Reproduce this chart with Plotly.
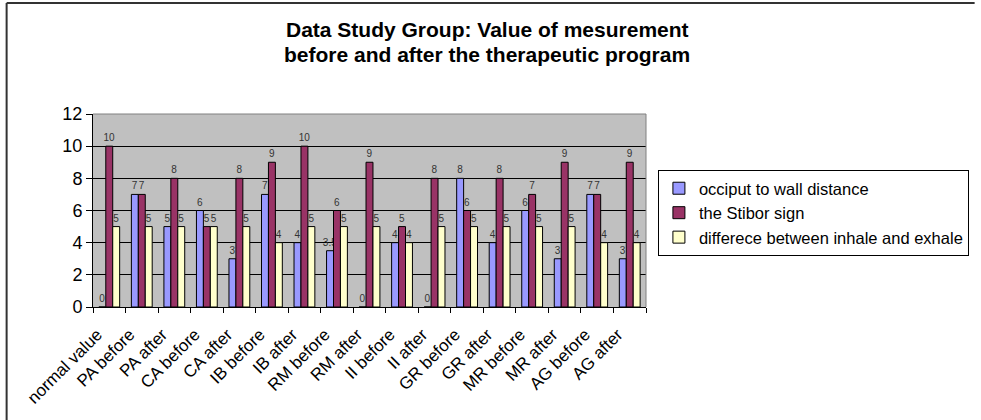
import plotly.graph_objects as go

categories = ["normal value", "PA before", "PA after", "CA before", "CA after",
              "IB before", "IB after", "RM before", "RM after", "II before",
              "II after", "GR before", "GR after", "MR before", "MR after",
              "AG before", "AG after"]
occiput = [0, 7, 5, 6, 3, 7, 4, 3.5, 0, 4, 0, 8, 4, 6, 3, 7, 3]
stibor = [10, 7, 8, 5, 8, 9, 10, 6, 9, 5, 8, 6, 8, 7, 9, 7, 9]
inhale_exhale = [5, 5, 5, 5, 5, 4, 5, 5, 5, 4, 5, 5, 5, 5, 5, 4, 4]
series_names = ["occiput to wall distance", "the Stibor sign",
                "differece between inhale and exhale"]
y_ticks = [0, 2, 4, 6, 8, 10, 12]

FONT = "Arial, 'Liberation Sans', sans-serif"
colors = ["#9999FF", "#993366", "#FFFFCC"]

fig = go.Figure()
for name, vals, col in zip(series_names, [occiput, stibor, inhale_exhale], colors):
    fig.add_trace(go.Bar(
        x=categories, y=vals, name=name,
        marker=dict(color=col, line=dict(color="#000000", width=1)),
        text=[str(v) for v in vals], textposition="outside",
        textfont=dict(family=FONT, size=10, color="#333333"),
        constraintext="none", cliponaxis=False,
    ))

W, H = 981, 420
L, R, T, B = 93, 331, 114, 113
pw, ph = W - L - R, H - T - B

def px(x):
    return (x - L) / pw

def py(y):
    return (H - B - y) / ph

fig.update_layout(
    width=W, height=H,
    margin=dict(l=L, r=R, t=T, b=B, pad=0),
    paper_bgcolor="white", plot_bgcolor="#C0C0C0",
    barmode="group", bargap=0.36, bargroupgap=0,
    font=dict(family=FONT, color="black"),
    showlegend=True,
    legend=dict(x=px(662), y=py(170), xanchor="left", yanchor="top",
                bgcolor="white", bordercolor="black", borderwidth=1,
                font=dict(family=FONT, size=16.5, color="black")),
    xaxis=dict(tickangle=-45, tickfont=dict(family=FONT, size=17, color="black"),
               showline=True, linecolor="black", linewidth=1,
               ticks="outside", tickson="boundaries", ticklen=5,
               tickcolor="black", showgrid=False,
               ticklabelshift=-12, ticklabelstandoff=10),
    yaxis=dict(range=[0, 12], tickvals=y_ticks, tickfont=dict(family=FONT, size=18, color="black"),
               showline=True, linecolor="black", linewidth=1,
               ticks="outside", ticklen=6, tickcolor="black",
               showgrid=True, gridcolor="black", gridwidth=1, zeroline=False),
    annotations=[
        dict(text="<b>Data Study Group: Value of mesurement</b>", xref="paper", yref="paper",
             x=px(490), y=py(29), xanchor="center", yanchor="middle", showarrow=False,
             font=dict(family=FONT, size=21, color="black")),
        dict(text="<b>before and after the therapeutic program</b>", xref="paper", yref="paper",
             x=px(490), y=py(54), xanchor="center", yanchor="middle", showarrow=False,
             font=dict(family=FONT, size=21, color="black")),
    ],
    shapes=[
        dict(type="line", xref="paper", yref="paper", x0=1, x1=1, y0=0, y1=1,
             line=dict(color="#808080", width=1)),
        dict(type="line", xref="paper", yref="paper", x0=0, x1=1, y0=1, y1=1,
             line=dict(color="#808080", width=1)),
        dict(type="line", xref="paper", yref="paper", x0=px(6), x1=px(6), y0=py(420), y1=py(3),
             line=dict(color="#333333", width=2)),
        dict(type="line", xref="paper", yref="paper", x0=px(6), x1=px(981), y0=py(3), y1=py(3),
             line=dict(color="#333333", width=2)),
    ],
)

fig.write_html(
    "out.html",
    config={"displayModeBar": False},
    post_script="document.body.style.margin='0';document.body.style.overflow='hidden';"
                "document.documentElement.style.overflow='hidden';",
)
